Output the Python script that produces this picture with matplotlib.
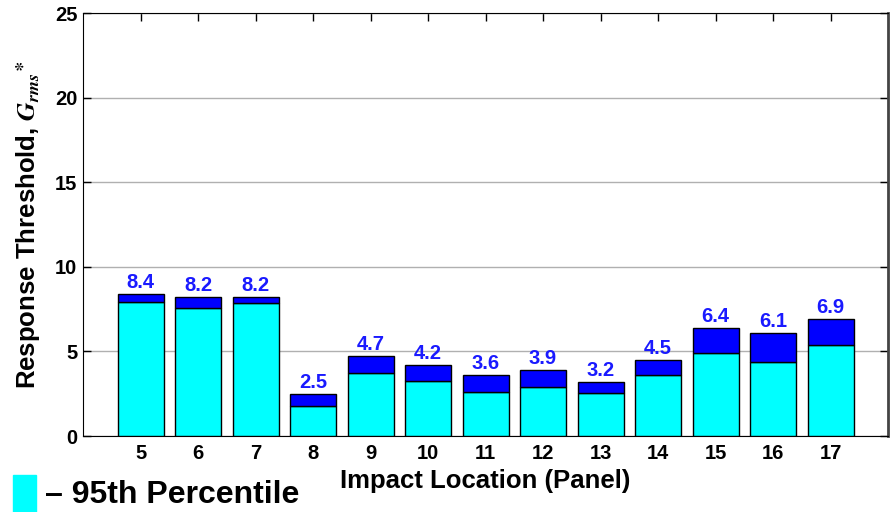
import matplotlib.pyplot as plt
from matplotlib.patches import Rectangle

plt.rcParams['font.family'] = ['Liberation Sans', 'DejaVu Sans']
plt.rcParams['font.weight'] = 'bold'
plt.rcParams['mathtext.fontset'] = 'stix'

# impact panels and response thresholds
panels = [5, 6, 7, 8, 9, 10, 11, 12, 13, 14, 15, 16, 17]
totals = [8.4, 8.2, 8.2, 2.5, 4.7, 4.2, 3.6, 3.9, 3.2, 4.5, 6.4, 6.1, 6.9]
pct95 = [7.9, 7.55, 7.85, 1.8, 3.7, 3.25, 2.6, 2.9, 2.55, 3.6, 4.9, 4.4, 5.4]
yticks = [0, 5, 10, 15, 20, 25]

fig = plt.figure(figsize=(8.93, 5.12), dpi=100)
ax = fig.add_axes([0.093, 0.1484, 0.9014, 0.8262])

upper = [t - p for t, p in zip(totals, pct95)]
ax.bar(panels, pct95, width=0.8, color='#00ffff', edgecolor='black', linewidth=1, zorder=3)
ax.bar(panels, upper, bottom=pct95, width=0.8, color='#0000ff', edgecolor='black',
       linewidth=1, zorder=3)

for x, t in zip(panels, totals):
    ax.text(x, t + 0.12, f'{t:.1f}', ha='center', va='bottom', color='#1a1aff',
            fontsize=14.5, fontweight='bold', zorder=4)

ax.set_xlim(4, 18)
ax.set_ylim(0, 25)
ax.set_xticks(panels)
ax.set_yticks(yticks)
ax.tick_params(axis='both', labelsize=14.5, direction='in', length=6, top=True, right=True, width=1)
ax.tick_params(axis='x', pad=6)
ax.tick_params(axis='y', pad=4)
for lab in ax.get_xticklabels() + ax.get_yticklabels():
    lab.set_fontweight('bold')
ax.yaxis.grid(True, color='#b0b0b0', linewidth=1, zorder=0)
ax.spines['right'].set_color('#444444')
ax.spines['right'].set_linewidth(2)

ax.set_xlabel('Impact Location (Panel)', fontsize=18.5, fontweight='bold', labelpad=4)
ax.set_ylabel(r'Response Threshold, $G_{rms}$$^{\ast}$', fontsize=18.5, fontweight='bold')
ax.yaxis.set_label_coords(-0.05, 0.5)

# legend swatch in the lower left corner
fig.patches.append(Rectangle((13 / 893, 0), 23 / 893, 37 / 512, transform=fig.transFigure,
                             color='#00ffff'))
fig.text(45 / 893, 17 / 512, '– 95th Percentile', fontsize=23, fontweight='bold',
         va='center', ha='left')

fig.savefig('out.png', dpi=100)
